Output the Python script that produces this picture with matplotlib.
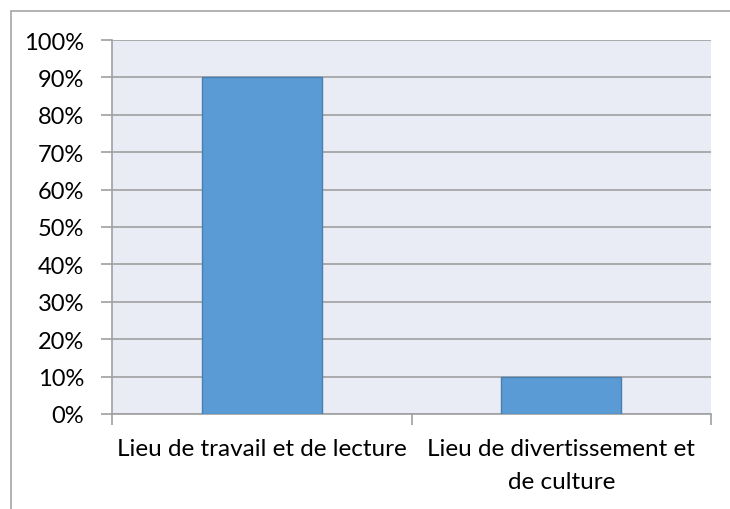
import matplotlib.pyplot as plt
from matplotlib.patches import Rectangle
from matplotlib.ticker import PercentFormatter

plt.rcParams['font.family'] = ['Lato', 'DejaVu Sans']

categories = ['Lieu de travail et de lecture', 'Lieu de divertissement et\nde culture']
values = [90, 10]
yticks = list(range(0, 101, 10))

W, H = 730, 510
fig = plt.figure(figsize=(W / 100, H / 100), dpi=100)

# outer chart frame (right and bottom edges fall outside the picture)
fig.patches.append(Rectangle((11 / W, -0.1), 1.2, 1 - 12 / H + 0.1, transform=fig.transFigure,
                             fill=False, edgecolor='#a6a6a6', linewidth=1.2))

ax = fig.add_axes([112 / W, 1 - 415 / H, (711 - 112) / W, (415 - 41) / H])
ax.set_facecolor('#e9ecf5')

x = list(range(len(categories)))
ax.bar(x, values, width=0.4, color='#5b9bd5', edgecolor='#4a7eb0', linewidth=1, zorder=3)

ax.set_xlim(-0.5, 1.5)
ax.set_ylim(0, 100)
ax.set_yticks(yticks)
ax.yaxis.set_major_formatter(PercentFormatter(decimals=0))
ax.grid(axis='y', color='#a0a0a0', linewidth=1.2, zorder=1)
ax.set_xticks(x)
ax.set_xticklabels(categories, fontsize=17.5, linespacing=1.75, multialignment='center')
ax.set_xticks([-0.5, 0.5, 1.5], minor=True)
ax.tick_params(axis='x', which='major', length=0, pad=17)
ax.tick_params(axis='x', which='minor', length=8, color='#a0a0a0', width=1.2)
ax.tick_params(axis='y', length=8, color='#a0a0a0', width=1.2, labelsize=17, pad=12)
for side in ['top', 'right']:
    ax.spines[side].set_visible(False)
for side in ['left', 'bottom']:
    ax.spines[side].set_color('#a0a0a0')
    ax.spines[side].set_linewidth(1.2)

fig.savefig('out.png', dpi=100)
